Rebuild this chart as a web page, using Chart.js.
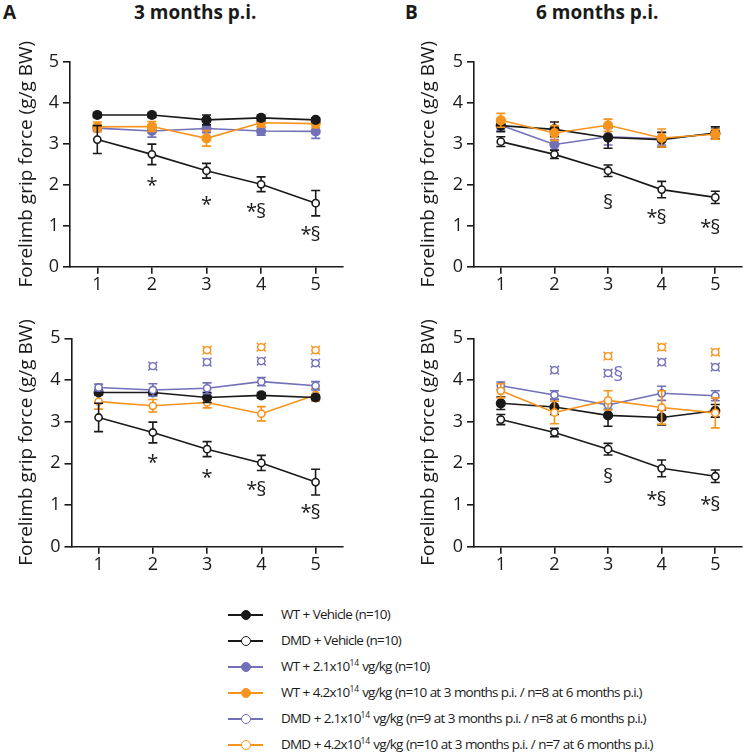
<!DOCTYPE html>
<html>
<head>
<meta charset="utf-8">
<script src="https://cdn.jsdelivr.net/npm/chart.js@4.4.1/dist/chart.umd.min.js"></script>
<style>
  html, body { margin: 0; padding: 0; background: #fff; }
  body { width: 748px; height: 753px; position: relative; overflow: hidden; font-family: "Open Sans", sans-serif; color: #1a1a1a; }
  .panel { position: absolute; }
  .lbl { position: absolute; font-weight: bold; font-size: 19px; line-height: 1; }
  .legend { position: absolute; left: 228px; top: 602px; }
  .row { position: absolute; left: 0; height: 26px; width: 520px; }
  .row .ln { position: absolute; left: 0; width: 35px; top: 12px; height: 1.6px; }
  .row .dot { position: absolute; left: 12.5px; top: 7.5px; width: 8px; height: 8px; border-radius: 50%; border: 1.6px solid; background: #fff; }
  .row .txt { position: absolute; left: 53px; top: 3px; font-size: 13.5px; line-height: 18px; white-space: nowrap; color: #1a1a1a; letter-spacing: -0.8px; word-spacing: 0.6px; }
  .row .txt sup { font-size: 8.5px; vertical-align: 0; position: relative; top: -5px; letter-spacing: -0.2px; }
</style>
</head>
<body>
<div class="lbl" style="left:3px; top:3px;">A</div>
<div class="lbl" style="left:134px; top:3px;">3 months p.i.</div>
<div class="lbl" style="left:405px; top:3px;">B</div>
<div class="lbl" style="left:536px; top:3px;">6 months p.i.</div>

<canvas id="cA1" class="panel" style="left:0;top:0" width="374" height="300"></canvas>
<canvas id="cB1" class="panel" style="left:374px;top:0" width="374" height="300"></canvas>
<canvas id="cA2" class="panel" style="left:0;top:300px" width="374" height="300"></canvas>
<canvas id="cB2" class="panel" style="left:374px;top:300px" width="374" height="300"></canvas>

<div class="legend" id="legend"></div>

<script>
// ---------------- DATA ----------------
const categories = ['1', '2', '3', '4', '5'];
const yTickValues = [0, 1, 2, 3, 4, 5];
const yAxisTitle = 'Forelimb grip force (g/g BW)';

// 3 months p.i.
const wtVehicle3 = [3.70, 3.70, 3.58, 3.63, 3.58];
const wtVehicle3Err = [0.06, 0.06, 0.12, 0.07, 0.05];
const dmdVehicle3 = [3.10, 2.74, 2.34, 2.01, 1.55];
const dmdVehicle3Err = [0.34, 0.25, 0.18, 0.18, 0.31];
const wtLow3 = [3.38, 3.31, 3.37, 3.31, 3.30];
const wtLow3Err = [0.08, 0.15, 0.10, 0.10, 0.17];
const wtHigh3 = [3.41, 3.42, 3.13, 3.51, 3.49];
const wtHigh3Err = [0.12, 0.12, 0.19, 0.10, 0.10];
const dmdLow3 = [3.82, 3.76, 3.80, 3.96, 3.86];
const dmdLow3Err = [0.08, 0.15, 0.13, 0.10, 0.10];
const dmdHigh3 = [3.48, 3.38, 3.46, 3.19, 3.64];
const dmdHigh3Err = [0.18, 0.15, 0.13, 0.17, 0.15];

// 6 months p.i.
const wtVehicle6 = [3.44, 3.35, 3.15, 3.10, 3.26];
const wtVehicle6Err = [0.15, 0.18, 0.26, 0.18, 0.15];
const dmdVehicle6 = [3.05, 2.74, 2.34, 1.88, 1.69];
const dmdVehicle6Err = [0.12, 0.10, 0.14, 0.20, 0.15];
const wtLow6 = [3.45, 2.98, 3.17, 3.12, 3.25];
const wtLow6Err = [0.12, 0.12, 0.20, 0.15, 0.12];
const wtHigh6 = [3.57, 3.26, 3.45, 3.14, 3.23];
const wtHigh6Err = [0.17, 0.18, 0.15, 0.22, 0.12];
const dmdLow6 = [3.86, 3.64, 3.40, 3.68, 3.62];
const dmdLow6Err = [0.09, 0.10, 0.10, 0.17, 0.12];
const dmdHigh6 = [3.74, 3.22, 3.51, 3.34, 3.21];
const dmdHigh6Err = [0.17, 0.27, 0.23, 0.40, 0.36];

// significance marks: category, y value, symbol, group
const marksTopA = [['2', 2.07, '*', 'black'], ['3', 1.62, '*', 'black'], ['4', 1.38, '*§', 'black'], ['5', 0.80, '*§', 'black']];
const marksTopB = [['3', 1.59, '§', 'black'], ['4', 1.22, '*§', 'black'], ['5', 0.98, '*§', 'black']];
const marksBotA = [['2', 2.12, '*', 'black'], ['3', 1.76, '*', 'black'], ['4', 1.40, '*§', 'black'], ['5', 0.84, '*§', 'black'],
                   ['2', 4.34, '¤', 'purple'], ['3', 4.43, '¤', 'purple'], ['4', 4.45, '¤', 'purple'], ['5', 4.41, '¤', 'purple'],
                   ['3', 4.72, '¤', 'orange'], ['4', 4.80, '¤', 'orange'], ['5', 4.72, '¤', 'orange']];
const marksBotB = [['3', 1.70, '§', 'black'], ['4', 1.16, '*§', 'black'], ['5', 1.04, '*§', 'black'],
                   ['2', 4.24, '¤', 'purple'], ['3', 4.17, '¤§', 'purple'], ['4', 4.42, '¤', 'purple'], ['5', 4.30, '¤', 'purple'],
                   ['3', 4.58, '¤', 'orange'], ['4', 4.78, '¤', 'orange'], ['5', 4.66, '¤', 'orange']];

const legendLabels = [
  'WT + Vehicle (n=10)',
  'DMD + Vehicle (n=10)',
  'WT + 2.1x10<sup>14</sup> vg/kg (n=10)',
  'WT + 4.2x10<sup>14</sup> vg/kg (n=10 at 3 months p.i. / n=8 at 6 months p.i.)',
  'DMD + 2.1x10<sup>14</sup> vg/kg (n=9 at 3 months p.i. / n=8 at 6 months p.i.)',
  'DMD + 4.2x10<sup>14</sup> vg/kg (n=10 at 3 months p.i. / n=7 at 6 months p.i.)'
];

// ---------------- STYLE ----------------
const COL = { black: '#1a1a1a', purple: '#7170b8', orange: '#f7941d' };
const FONT = '"Open Sans", sans-serif';

function ds(label, data, errors, color, filled) {
  return {
    label, data, errors,
    borderColor: color,
    backgroundColor: color,
    borderWidth: 1.6,
    pointRadius: filled ? 4.3 : 3.6,
    pointHoverRadius: filled ? 4.3 : 3.6,
    pointBackgroundColor: filled ? color : '#ffffff',
    pointBorderColor: color,
    pointBorderWidth: 1.6,
    tension: 0,
    fill: false
  };
}

const errorBarPlugin = {
  id: 'errorBars',
  beforeDatasetDraw(chart, args) {
    const d = chart.data.datasets[args.index];
    if (!d.errors) return;
    const y = chart.scales.y;
    const ctx = chart.ctx;
    ctx.save();
    ctx.strokeStyle = d.borderColor;
    ctx.lineWidth = 1.6;
    args.meta.data.forEach((pt, i) => {
      const v = d.data[i], e = d.errors[i];
      const yt = y.getPixelForValue(v + e), yb = y.getPixelForValue(v - e);
      const x = pt.x, w = 4.5;
      ctx.beginPath();
      ctx.moveTo(x, yt); ctx.lineTo(x, yb);
      ctx.moveTo(x - w, yt); ctx.lineTo(x + w, yt);
      ctx.moveTo(x - w, yb); ctx.lineTo(x + w, yb);
      ctx.stroke();
    });
    ctx.restore();
  }
};

const marksPlugin = {
  id: 'marks',
  afterDatasetsDraw(chart, args, opts) {
    const marks = opts.marks || [];
    const ctx = chart.ctx;
    const xs = chart.scales.x, ys = chart.scales.y;
    ctx.save();
    ctx.textBaseline = 'alphabetic';
    marks.forEach(([cat, val, txt, grp]) => {
      const x = xs.getPixelForValue(categories.indexOf(cat));
      const y = ys.getPixelForValue(val);
      ctx.fillStyle = COL[grp];
      let anchorIdx = 0;
      for (let k = 0; k < txt.length; k++) { if (txt[k] !== '*') { anchorIdx = k; break; } }
      const anchor = txt[anchorIdx];
      const pre = txt.slice(0, anchorIdx), post = txt.slice(anchorIdx + 1);
      ctx.font = (anchor === '¤' ? '22px ' : '20px ') + FONT;
      const m = ctx.measureText(anchor);
      const aw = m.width;
      const base = y + (m.actualBoundingBoxAscent - m.actualBoundingBoxDescent) / 2;
      ctx.textAlign = 'center';
      ctx.fillText(anchor, x, base);
      ctx.font = '20px ' + FONT;
      if (pre) { ctx.textAlign = 'right'; ctx.fillText(pre, x - aw / 2 + 1, base); }
      if (post) { ctx.textAlign = 'left'; ctx.fillText(post, x + aw / 2 - 1, base); }
    });
    ctx.restore();
  }
};

function makePanel(id, datasets, marks, g) {
  new Chart(document.getElementById(id), {
    type: 'line',
    data: { labels: categories, datasets },
    options: {
      responsive: false,
      animation: false,
      events: [],
      layout: { padding: { top: g.top, right: g.right, left: 0, bottom: 0 } },
      plugins: { legend: { display: false }, tooltip: { enabled: false }, marks: { marks } },
      scales: {
        x: {
          type: 'category',
          offset: true,
          grid: { display: true, drawOnChartArea: false, offset: false, tickLength: 7, color: COL.black, lineWidth: 1.6 },
          border: { display: true, color: COL.black, width: 1.6 },
          ticks: { color: COL.black, font: { family: FONT, size: 18 }, padding: 0, maxRotation: 0 },
          afterFit(s) { s.height = g.xh; }
        },
        y: {
          min: 0, max: 5,
          afterBuildTicks(s) { s.ticks = yTickValues.map(v => ({ value: v })); },
          grid: { display: true, drawOnChartArea: false, tickLength: 7, color: COL.black, lineWidth: 1.6 },
          border: { display: true, color: COL.black, width: 1.6 },
          ticks: { color: COL.black, font: { family: FONT, size: 18 }, padding: 4 },
          title: { display: true, text: yAxisTitle, color: COL.black, font: { family: FONT, size: 19 }, padding: { top: g.tp, bottom: 0 } },
          afterFit(s) { s.width = g.yw; }
        }
      }
    },
    plugins: [errorBarPlugin, marksPlugin]
  });
}

makePanel('cA1', [
  ds('WT + Vehicle', wtVehicle3, wtVehicle3Err, COL.black, true),
  ds('DMD + Vehicle', dmdVehicle3, dmdVehicle3Err, COL.black, false),
  ds('WT + 4.2x10^14 vg/kg', wtHigh3, wtHigh3Err, COL.orange, true),
  ds('WT + 2.1x10^14 vg/kg', wtLow3, wtLow3Err, COL.purple, true)
], marksTopA, { top: 61.7, right: 31, yw: 70, xh: 33.3, tp: 15.5 });

makePanel('cB1', [
  ds('WT + 4.2x10^14 vg/kg', wtHigh6, wtHigh6Err, COL.orange, true),
  ds('WT + Vehicle', wtVehicle6, wtVehicle6Err, COL.black, true),
  ds('DMD + Vehicle', dmdVehicle6, dmdVehicle6Err, COL.black, false),
  ds('WT + 2.1x10^14 vg/kg', wtLow6, wtLow6Err, COL.purple, true)
], marksTopB, { top: 61.7, right: 2.3, yw: 100, xh: 33.3, tp: 43.5 });

makePanel('cA2', [
  ds('DMD + 2.1x10^14 vg/kg', dmdLow3, dmdLow3Err, COL.purple, false),
  ds('WT + Vehicle', wtVehicle3, wtVehicle3Err, COL.black, true),
  ds('DMD + Vehicle', dmdVehicle3, dmdVehicle3Err, COL.black, false),
  ds('DMD + 4.2x10^14 vg/kg', dmdHigh3, dmdHigh3Err, COL.orange, false)
], marksBotA, { top: 38.3, right: 31.3, yw: 71.5, xh: 53.3, tp: 15.3 });

makePanel('cB2', [
  ds('DMD + 4.2x10^14 vg/kg', dmdHigh6, dmdHigh6Err, COL.orange, false),
  ds('DMD + 2.1x10^14 vg/kg', dmdLow6, dmdLow6Err, COL.purple, false),
  ds('WT + Vehicle', wtVehicle6, wtVehicle6Err, COL.black, true),
  ds('DMD + Vehicle', dmdVehicle6, dmdVehicle6Err, COL.black, false)
], marksBotB, { top: 38.3, right: 2.3, yw: 100, xh: 53.3, tp: 43.5 });

// ---------------- LEGEND ----------------
const legendStyles = [[COL.black, true], [COL.black, false], [COL.purple, true], [COL.orange, true], [COL.purple, false], [COL.orange, false]];
const rowTops = [0, 26, 52, 78, 104, 130];
const leg = document.getElementById('legend');
legendLabels.forEach((t, i) => {
  const [c, filled] = legendStyles[i];
  const r = document.createElement('div');
  r.className = 'row';
  r.style.top = rowTops[i] + 'px';
  r.innerHTML = '<div class="ln" style="background:' + c + '"></div>' +
    '<div class="dot" style="border-color:' + c + ';background:' + (filled ? c : '#fff') + '"></div>' +
    '<div class="txt">' + t + '</div>';
  leg.appendChild(r);
});
</script>
</body>
</html>
